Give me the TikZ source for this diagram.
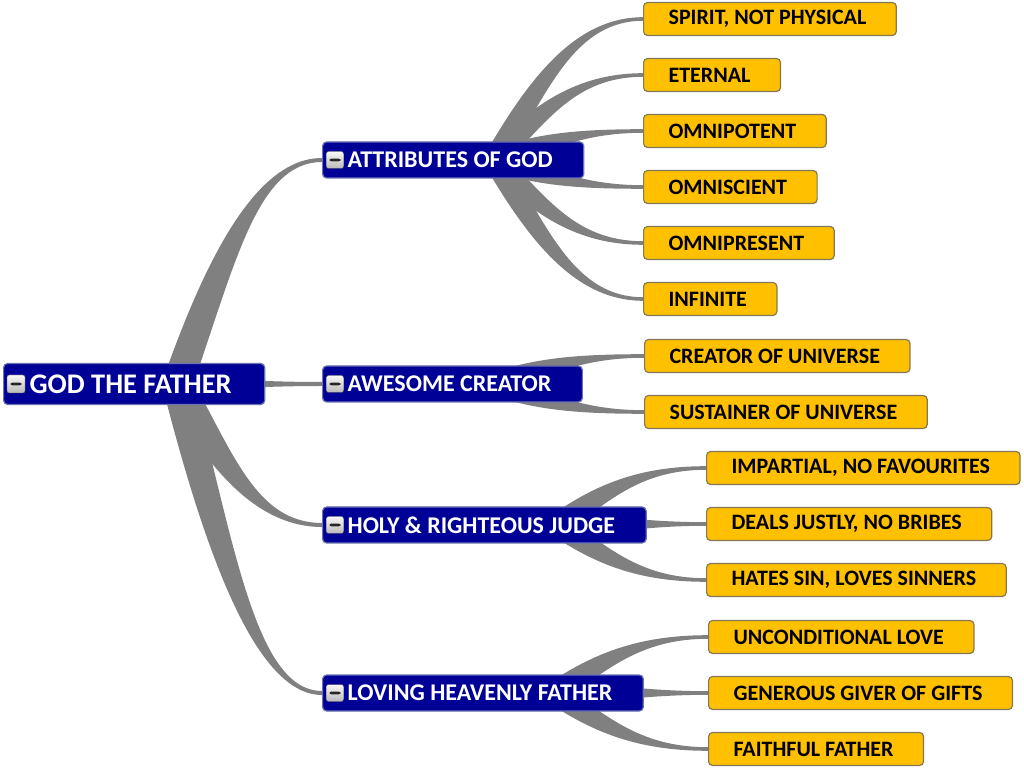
\documentclass[tikz,border=0pt]{standalone}
\usepackage{fontspec}
\setmainfont{Carlito}
\usetikzlibrary{calc,backgrounds}

\definecolor{navyfill}{RGB}{0,0,150}
\definecolor{navyline}{RGB}{105,115,175}
\definecolor{leaffill}{RGB}{255,192,0}
\definecolor{leafline}{RGB}{135,120,85}
\definecolor{boughgray}{RGB}{128,128,128}

% tapered bough: fork coordinate, target anchor, half width at fork, half width at target
\newcommand{\bough}[4]{%
  \fill[bough] let \p1=(#1), \p2=(#2),
      \p3=({\x1+0.3*(\x2-\x1)},{\y1+0.55*(\y2-\y1)}),
      \p4=({\x2-0.45*(\x2-\x1)},\y2),
      \n1={atan2(\y3-\y1,\x3-\x1)} in
    ($(\p1)+(\n1+90:#3)$) .. controls ($(\p3)+(\n1+90:#3)$) and ($(\p4)+(0,#4)$) .. ($(\p2)+(0,#4)$)
    -- ($(\p2)-(0,#4)$) .. controls ($(\p4)-(0,#4)$) and ($(\p3)+(\n1-90:#3)$) .. ($(\p1)+(\n1-90:#3)$) -- cycle;}

\begin{document}
\begin{tikzpicture}[
    x=1pt,y=1pt,
    topic/.style={rectangle,draw=navyline,fill=navyfill,line width=1.2pt,rounded corners=4pt,inner xsep=0pt,anchor=west,text=white},
    rootbox/.style={topic,minimum height=41pt,font=\bfseries\fontsize{28.4}{32}\selectfont,execute at begin node=\hspace*{26pt},execute at end node=\hspace*{33pt}},
    branch/.style={topic,minimum height=36pt,font=\bfseries\fontsize{24}{28}\selectfont,execute at begin node=\hspace*{25pt},execute at end node=\hspace*{31pt}},
    leaf/.style={rectangle,draw=leafline,fill=leaffill,line width=1.2pt,rounded corners=4pt,minimum height=33pt,inner xsep=0pt,anchor=west,text=black,font=\bfseries\fontsize{22}{26}\selectfont,execute at begin node=\hspace*{25pt},execute at end node=\hspace*{30pt}},
    minusbtn/.style={rectangle,rounded corners=2pt,draw=gray!60!black,top color=gray!5,bottom color=gray!55,minimum size=17pt,inner sep=0pt,
      path picture={\fill[gray!30!black] ($(path picture bounding box.center)+(-5.5pt,-1.4pt)$) rectangle ($(path picture bounding box.center)+(5.5pt,1.4pt)$);}},
    bough/.style={fill=boughgray}
]
    \path[use as bounding box] (0,0) rectangle (1024,768);

    % central topic and main branches
    \node[rootbox] (god) at (3,384) {GOD THE FATHER};
    \node[minusbtn,minimum size=18pt] (godbtn) at ([xshift=13pt]god.west) {};
    \node[branch] (attr) at (322,608) {ATTRIBUTES OF GOD};
    \node[branch] (creator) at (322,384) {AWESOME CREATOR};
    \node[branch] (judge) at (322,243) {HOLY \& RIGHTEOUS JUDGE};
    \node[branch] (father) at (322,75) {LOVING HEAVENLY FATHER};
    \foreach \b in {attr,creator,judge,father}
        \node[minusbtn] (\b btn) at ([xshift=13pt]\b.west) {};

    \coordinate (god-fork) at ([xshift=-88pt]god.east);
    \foreach \b in {attr,creator,judge,father}
        \coordinate (\b-fork) at ([xshift=-90pt]\b.east);

    \begin{scope}[on background layer]
        \bough{god-fork}{attr.west}{15pt}{2pt}
        \bough{god-fork}{creator.west}{6pt}{2pt}
        \bough{god-fork}{judge.west}{15pt}{2pt}
        \bough{god-fork}{father.west}{15pt}{2pt}
    \end{scope}

    % subtopics
    \foreach \leafname/\parent/\xpos/\ypos/\leaftext in {
        spirit/attr/643/749/{SPIRIT, NOT PHYSICAL},
        eternal/attr/643/693/ETERNAL,
        omnipotent/attr/643/637/OMNIPOTENT,
        omniscient/attr/643/581/OMNISCIENT,
        omnipresent/attr/643/525/OMNIPRESENT,
        infinite/attr/643/469/INFINITE,
        maker/creator/644/412/CREATOR OF UNIVERSE,
        sustainer/creator/644/356/SUSTAINER OF UNIVERSE,
        impartial/judge/706/300/{IMPARTIAL, NO FAVOURITES},
        justly/judge/706/244/{DEALS JUSTLY, NO BRIBES},
        hates/judge/706/188/{HATES SIN, LOVES SINNERS},
        uncond/father/708/131/UNCONDITIONAL LOVE,
        generous/father/708/75/GENEROUS GIVER OF GIFTS,
        faithful/father/708/19/FAITHFUL FATHER}
    {
        \node[leaf] (\leafname) at (\xpos,\ypos) {\leaftext};
        \begin{scope}[on background layer]
            \bough{\parent-fork}{\leafname.west}{11pt}{1.8pt}
        \end{scope}
    }
\end{tikzpicture}
\end{document}
